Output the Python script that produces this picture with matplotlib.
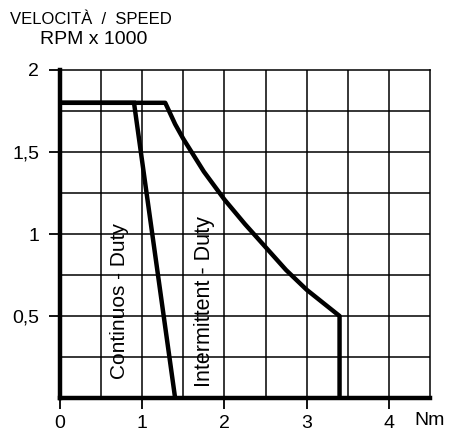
import matplotlib
matplotlib.use("Agg")
import matplotlib.pyplot as plt

# curve data (torque Nm, speed RPM x 1000)
cont_torque = [0, 0.9, 1.4]
cont_speed = [1.8, 1.8, 0]
inter_torque = [0, 1.28, 1.4, 1.5, 1.75, 2.0, 2.25, 2.5, 2.75, 3.0, 3.2, 3.4, 3.4]
inter_speed = [1.8, 1.8, 1.67, 1.58, 1.38, 1.21, 1.06, 0.92, 0.78, 0.66, 0.58, 0.5, 0]
xticks = [0, 1, 2, 3, 4]
xlabels = ["0", "1", "2", "3", "4"]
yticks = [0.5, 1, 1.5, 2]
ylabels = ["0,5", "1", "1,5", "2"]

plt.rcParams['font.family'] = ['Liberation Sans', 'DejaVu Sans']

fig = plt.figure(figsize=(4.49, 4.36), dpi=100)
ax = fig.add_axes([60/449, 38/436, 370/449, 328/436])

# grid
for gx in [0.5 * i for i in range(1, 9)]:
    ax.axvline(gx, color='black', lw=1.1, zorder=1)
for gy in [0.25 * i for i in range(1, 8)]:
    ax.axhline(gy, color='black', lw=1.1, zorder=1)

ax.plot(cont_torque, cont_speed, color='black', lw=3.2, solid_joinstyle='miter', zorder=3)
ax.plot(inter_torque, inter_speed, color='black', lw=3.2, solid_joinstyle='round', zorder=3)

ax.set_xlim(0, 4.5)
ax.set_ylim(0, 2)
for s in ['top', 'right']:
    ax.spines[s].set_linewidth(1.1)
for s in ['left', 'bottom']:
    ax.spines[s].set_linewidth(3.2)

ax.set_xticks(xticks)
ax.set_xticklabels(xlabels, fontsize=14)
ax.set_yticks(yticks)
ax.set_yticklabels(ylabels, fontsize=14)
ax.tick_params(axis='x', length=8, width=1.3, pad=4, direction='out')
ax.tick_params(axis='y', length=8, width=1.3, pad=7, direction='out')

ax.text(0.72, 0.59, "Continuos - Duty", rotation=90, ha='center', va='center', fontsize=15)
ax.text(1.76, 0.59, "Intermittent - Duty", rotation=90, ha='center', va='center', fontsize=15.5)

fig.text(10/449, 1 - 20/436, "VELOCITÀ  /  SPEED", fontsize=12, ha='left', va='center')
fig.text(40/449, 1 - 39/436, "RPM x 1000", fontsize=14, ha='left', va='center')
fig.text(414/449, 1 - 420/436, "Nm", fontsize=14, ha='left', va='center')

fig.savefig("out.png", dpi=100)
